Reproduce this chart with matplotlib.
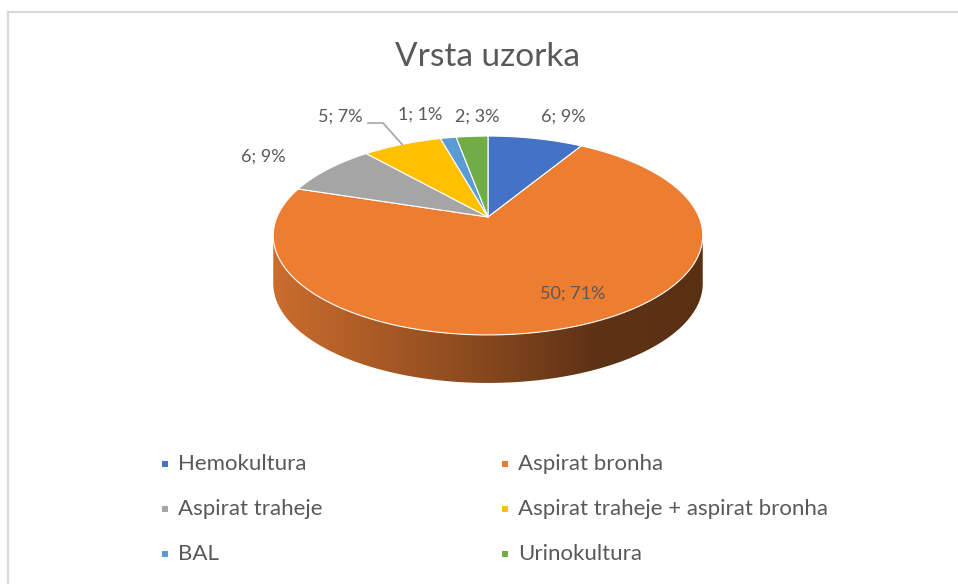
import numpy as np
import matplotlib
matplotlib.use('Agg')
import matplotlib.pyplot as plt
from matplotlib.patches import Polygon
from matplotlib.lines import Line2D
from matplotlib.colors import LinearSegmentedColormap

# --------------------------
# data
# --------------------------
categories = ['Hemokultura', 'Aspirat bronha', 'Aspirat traheje',
              'Aspirat traheje + aspirat bronha', 'BAL', 'Urinokultura']
counts = [6, 50, 6, 5, 1, 2]
colors = ['#4472C4', '#ED7D31', '#A5A5A5', '#FFC000', '#5B9BD5', '#70AD47']
title = 'Vrsta uzorka'

# --------------------------
# layout (pixel space)
# --------------------------
W, H = 958, 584
cx, cy = 488, 217        # apex of the slices
a, b = 211, 96           # radii of the top face
k = 0.186                # perspective strength
depth = 48               # side thickness
text_col = '#595959'
plt.rcParams['font.family'] = ['Lato', 'DejaVu Sans']

# label anchors (centre of text)
label_xy = [(563, 117), (573, 294), (263, 157), (340, 117), (420, 115), (477, 117)]


def project(theta, r=1.0):
    """theta: degrees clockwise from 12 o'clock on the disc"""
    t = np.radians(theta)
    u = r * np.sin(t)
    v = r * np.cos(t)
    d = 1 + k * v
    return cx + a * u / d, cy - b * v / d


fig = plt.figure(figsize=(W / 100, H / 100), dpi=100)
ax = fig.add_axes([0, 0, 1, 1])
ax.set_xlim(0, W)
ax.set_ylim(H, 0)
ax.axis('off')

# frame lines (only left and top are visible in the crop)
fig.add_artist(Line2D([8 / W, 8 / W], [0, 1 - 12 / H], color='#D9D9D9', lw=1.6))
fig.add_artist(Line2D([8 / W, 1], [1 - 12 / H, 1 - 12 / H], color='#D9D9D9', lw=1.6))

# --------------------------
# side of the pie (front half)
# --------------------------
th = np.linspace(0, 360, 1441)
bx, by = project(th)
i_min, i_max = np.argmin(bx), np.argmax(bx)
# arc from rightmost point through bottom to leftmost point
arc = np.arange(i_max, i_min + 1)
fx, fy = bx[arc], by[arc]
side_pts = np.column_stack([np.r_[fx, fx[::-1]], np.r_[fy, fy[::-1] + depth]])
side = Polygon(side_pts, closed=True, facecolor='none', edgecolor='none')
ax.add_patch(side)
grad = LinearSegmentedColormap.from_list(
    'side', [(0, '#CB6D2D'), (0.45, '#8C4B1F'), (0.75, '#5E3215'), (1, '#5A3013')])
x0, x1 = fx.min(), fx.max()
img = ax.imshow(np.linspace(0, 1, 256)[None, :], cmap=grad, aspect='auto',
                extent=(x0, x1, fy.max() + depth, fy.min()), zorder=1)
img.set_clip_path(side)
ax.set_xlim(0, W)
ax.set_ylim(H, 0)

# --------------------------
# top face slices
# --------------------------
total = sum(counts)
bounds = np.r_[0, np.cumsum(counts)] / total * 360
for i, (c, col) in enumerate(zip(counts, colors)):
    ts = np.linspace(bounds[i], bounds[i + 1], 200)
    px, py = project(ts)
    pts = np.column_stack([np.r_[cx, px], np.r_[cy, py]])
    ax.add_patch(Polygon(pts, closed=True, facecolor=col, edgecolor='white',
                         lw=0.8, zorder=2, joinstyle='round'))

# --------------------------
# data labels
# --------------------------
for i, c in enumerate(counts):
    pct = round(c / total * 100)
    lx, ly = label_xy[i]
    ax.text(lx, ly, f'{c}; {pct}%', ha='center', va='center',
            fontsize=13, color=text_col, zorder=5)

# leader line for the yellow slice
mid = (bounds[3] + bounds[4]) / 2
ex, ey = project(mid)
lx, ly = label_xy[3]
ax.plot([lx + 28, lx + 43, ex], [ly + 6, ly + 6, ey], color='#A5A5A5', lw=1.2, zorder=4)

# title
ax.text(488, 57, title, ha='center', va='center', fontsize=24, color=text_col)

# --------------------------
# legend (2 columns, row-major like Excel)
# --------------------------
leg_x = [165, 505]
for i, (name, col) in enumerate(zip(categories, colors)):
    r, cidx = divmod(i, 2)
    y = 464 + 45 * r
    ax.scatter([leg_x[cidx]], [y], marker='s', s=24, color=col, zorder=5, linewidths=0)
    ax.text(leg_x[cidx] + 13, y, name, ha='left', va='center',
            fontsize=16, color=text_col)

fig.savefig('out.png', dpi=100)
